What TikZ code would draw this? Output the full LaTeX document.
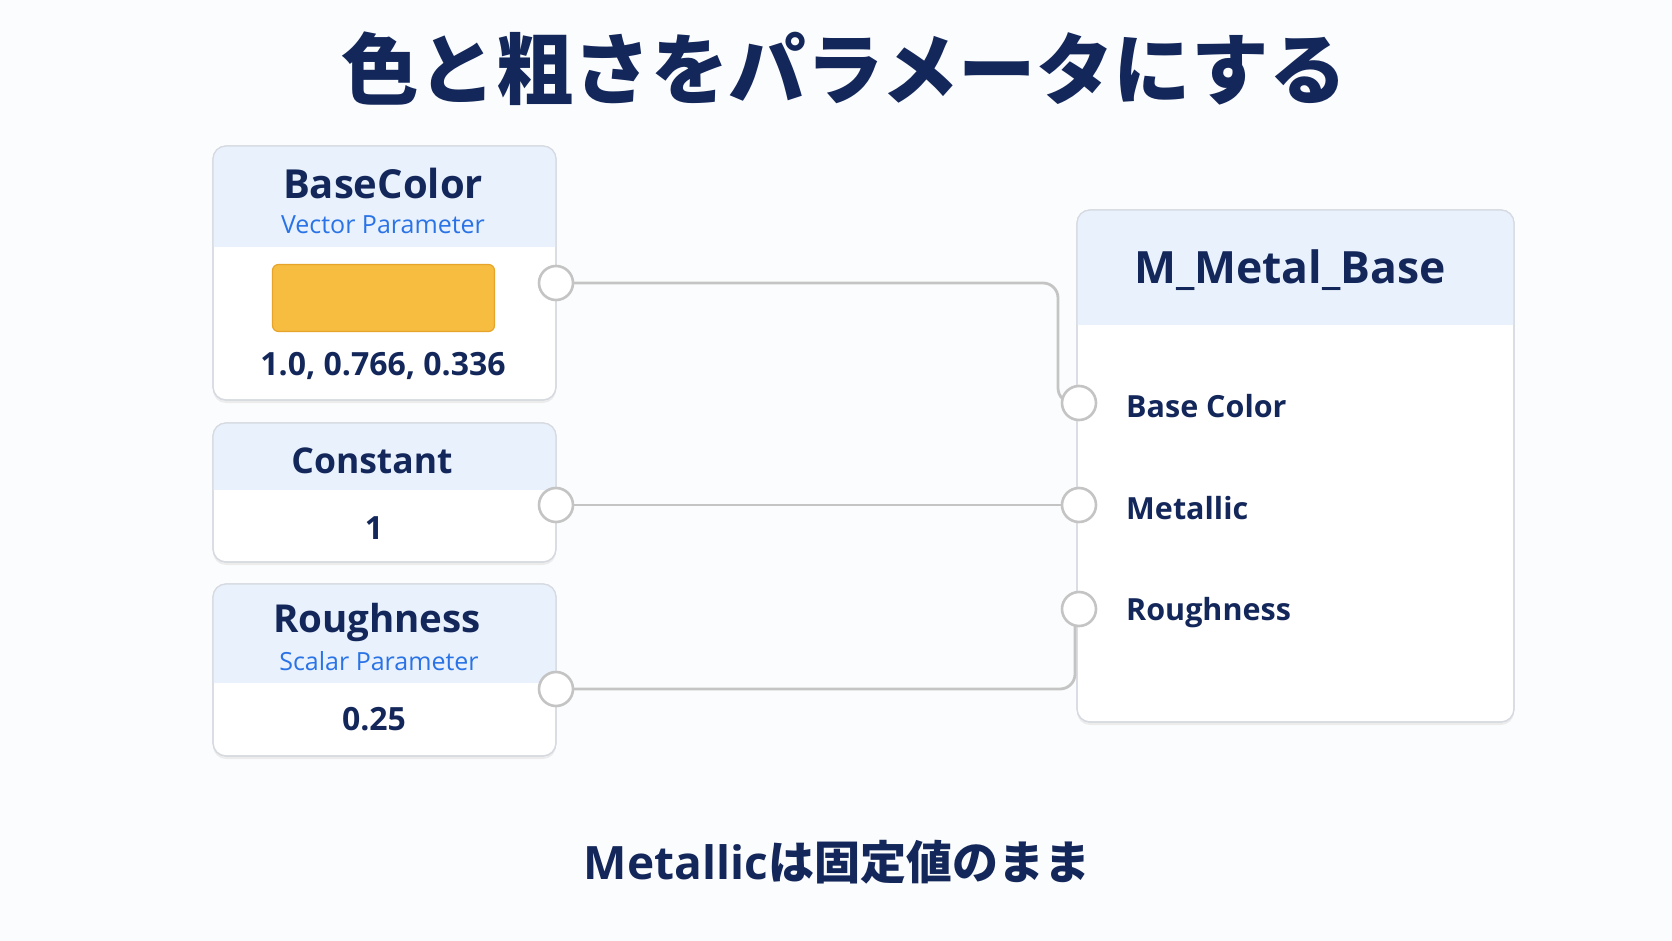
\documentclass[tikz,border=0pt]{standalone}
\usepackage{fontspec}
\setmainfont{Open Sans}
\newfontfamily\cjk{Noto Sans CJK JP}
\usetikzlibrary{shadows}
\definecolor{navy}{HTML}{13275A}
\definecolor{hdr}{HTML}{E8F1FC}
\definecolor{bordergray}{HTML}{D6DAE0}
\definecolor{wiregray}{HTML}{C4C4C4}
\definecolor{subblue}{HTML}{2A73E6}
\definecolor{swfill}{HTML}{F6BD41}
\definecolor{swdraw}{HTML}{E6A52A}
\definecolor{bg}{HTML}{FBFCFD}
\tikzset{
  panel/.style={draw=bordergray, line width=1.2pt, fill=white, rounded corners=13pt,
    drop shadow={opacity=0.12, shadow xshift=0pt, shadow yshift=-3pt}},
  ttl/.style={text=navy, font=\bfseries\fontsize{40}{44}\selectfont, inner sep=0pt},
  sub/.style={text=subblue, font=\fontsize{25}{28}\selectfont, inner sep=0pt},
  val/.style={text=navy, font=\bfseries\fontsize{32}{35}\selectfont, inner sep=0pt},
  inlbl/.style={text=navy, font=\bfseries\fontsize{30.5}{34}\selectfont, inner sep=0pt, anchor=west},
  port/.style={circle, draw=wiregray, line width=2.6pt, fill=white, minimum size=34pt, inner sep=0pt},
  wire/.style={draw=wiregray, line width=2.8pt, rounded corners=15pt},
}
\begin{document}
\begin{tikzpicture}[x=1pt, y=-1pt]
\fill[bg] (0,0) rectangle (1672,941);
\useasboundingbox (0,0) rectangle (1672,941);

% title
\node[text=navy, font=\cjk\bfseries\fontsize{77.5}{82}\selectfont, inner sep=0pt] (title) at (844,69) {色と粗さをパラメータにする};

% BaseColor panel
\path[panel] (213,146) rectangle (556,400);
\begin{scope}
\clip[rounded corners=13pt] (213,146) rectangle (556,400);
\fill[hdr] (213,146) rectangle (556,247);
\end{scope}
\draw[draw=bordergray, line width=1.2pt, rounded corners=13pt] (213,146) rectangle (556,400);
\node[ttl] (bcname) at (383,184) {BaseColor};
\node[sub] (bcsub) at (383,225) {Vector Parameter};
\node[draw=swdraw, fill=swfill, line width=1.2pt, rounded corners=6pt, minimum width=222pt, minimum height=67pt, inner sep=0pt] (swatch) at (383.5,298) {};
\node[val] (bcval) at (383,366) {1.0, 0.766, 0.336};

% Constant panel
\path[panel] (213,423) rectangle (556,562);
\begin{scope}
\clip[rounded corners=13pt] (213,423) rectangle (556,562);
\fill[hdr] (213,423) rectangle (556,490);
\end{scope}
\draw[draw=bordergray, line width=1.2pt, rounded corners=13pt] (213,423) rectangle (556,562);
\node[ttl, font=\bfseries\fontsize{35.5}{40}\selectfont] (cname) at (372,461) {Constant};
\node[val] (cval) at (374,528) {1};

% Roughness panel
\path[panel] (213,584) rectangle (556,756);
\begin{scope}
\clip[rounded corners=13pt] (213,584) rectangle (556,756);
\fill[hdr] (213,584) rectangle (556,683);
\end{scope}
\draw[draw=bordergray, line width=1.2pt, rounded corners=13pt] (213,584) rectangle (556,756);
\node[ttl, font=\bfseries\fontsize{38.5}{42}\selectfont] (rname) at (377,622) {Roughness};
\node[sub] (rsub) at (379,661) {Scalar Parameter};
\node[val] (rval) at (374,719) {0.25};

% Material panel
\path[panel] (1077,210) rectangle (1514,722);
\begin{scope}
\clip[rounded corners=13pt] (1077,210) rectangle (1514,722);
\fill[hdr] (1077,210) rectangle (1514,325);
\end{scope}
\draw[draw=bordergray, line width=1.2pt, rounded corners=13pt] (1077,210) rectangle (1514,722);
\node[ttl, font=\bfseries\fontsize{44.5}{48}\selectfont] (mname) at (1290,270) {M\_Metal\_Base};
\node[inlbl] (lbc) at (1126,406) {Base Color};
\node[inlbl] (lmet) at (1126,508) {Metallic};
\node[inlbl] (lrough) at (1126,613) {Roughness};

% wires
\coordinate (bend1) at (1058,283);
\coordinate (bend3) at (1075,689);
\draw[wire] (556,283) -- (bend1) |- (1079,403);
\draw[wire] (556,505) -- (1079,505);
\draw[wire] (556,689) -- (bend3) -- (1075,609);

% ports
\node[port] (o1) at (556,283) {};
\node[port] (o2) at (556,505) {};
\node[port] (o3) at (556,689) {};
\node[port] (i1) at (1079,403) {};
\node[port] (i2) at (1079,505) {};
\node[port] (i3) at (1079,609) {};

% footer
\node[text=navy, font=\bfseries\fontsize{46}{50}\selectfont, inner sep=0pt] (foot) at (837,862) {Metallic{\cjk は固定値のまま}};
\end{tikzpicture}
\end{document}
